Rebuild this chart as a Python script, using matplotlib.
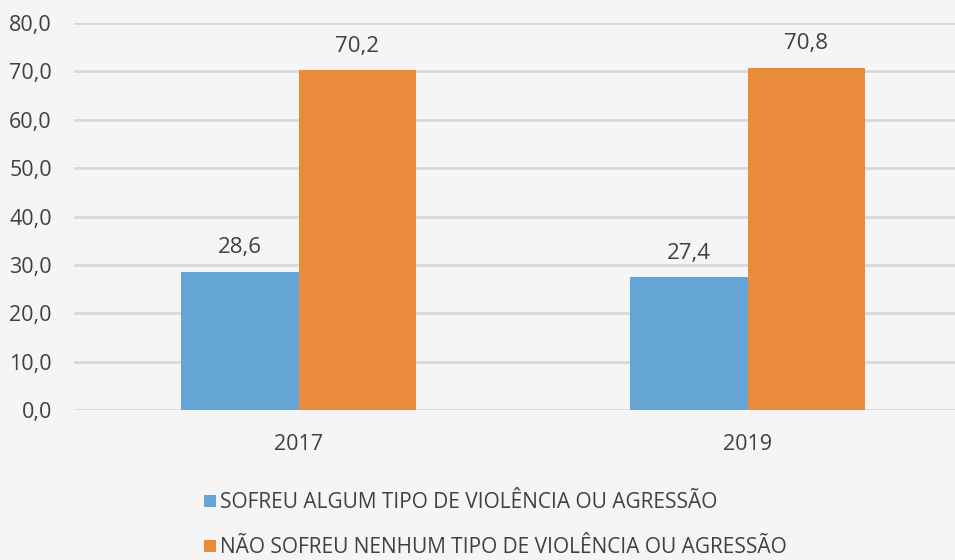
import matplotlib.pyplot as plt
import numpy as np

plt.rcParams['font.family'] = ['Open Sans', 'DejaVu Sans']

years = ['2017', '2019']
sofreu = [28.6, 27.4]
nao_sofreu = [70.2, 70.8]
labels = ['SOFREU ALGUM TIPO DE VIOLÊNCIA OU AGRESSÃO',
          'NÃO SOFREU NENHUM TIPO DE VIOLÊNCIA OU AGRESSÃO']

bg = '#f5f5f5'
txt = '#404040'
blue = '#65a5d5'
orange = '#e98b3a'

fig = plt.figure(figsize=(9.55, 5.6), dpi=100, facecolor=bg)
ax = fig.add_axes([74 / 955, 150 / 560, 1 - 74 / 955, 387 / 560])
ax.set_facecolor(bg)

x = np.arange(len(years))
w = 0.262
b1 = ax.bar(x - w / 2, sofreu, w, color=blue, label=labels[0], zorder=3)
b2 = ax.bar(x + w / 2, nao_sofreu, w, color=orange, label=labels[1], zorder=3)

for bars in (b1, b2):
    for r in bars:
        v = r.get_height()
        ax.annotate(f'{v:.1f}'.replace('.', ','),
                    (r.get_x() + r.get_width() / 2, v),
                    xytext=(0, 10), textcoords='offset points',
                    ha='center', va='bottom', fontsize=16, color=txt)

ax.set_ylim(0, 80)
ax.set_xlim(-0.5, 1.462)
ax.set_yticks(np.arange(0, 81, 10))
ax.set_yticklabels([f'{v:.1f}'.replace('.', ',') for v in np.arange(0, 81, 10)])
ax.set_xticks(x)
ax.set_xticklabels(years)
ax.tick_params(axis='both', length=0, labelsize=15.5, colors=txt)
ax.tick_params(axis='y', pad=16)
ax.tick_params(axis='x', pad=17)
ax.grid(axis='y', color='#d9d9d9', linewidth=2, zorder=0)
for s in ax.spines.values():
    s.set_visible(False)

leg = fig.legend(handles=[b1, b2], loc='upper left',
                 bbox_to_anchor=(196 / 955, 1 - 484 / 560),
                 frameon=False, fontsize=15, labelcolor=txt,
                 handlelength=0.55, handleheight=0.55, handletextpad=0.2,
                 labelspacing=1.15, borderaxespad=0)

fig.savefig('out.png', dpi=100, facecolor=bg)
